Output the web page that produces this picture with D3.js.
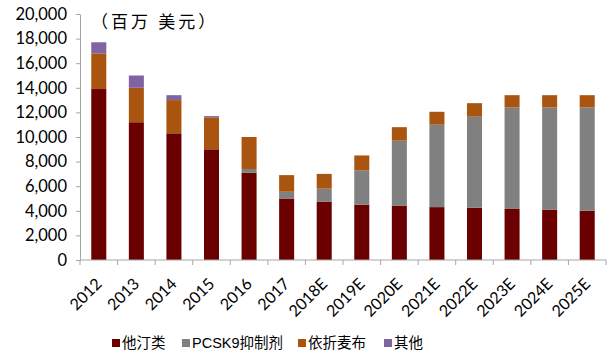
<!DOCTYPE html>
<html>
<head>
<meta charset="utf-8">
<script src="https://cdn.jsdelivr.net/npm/d3@7"></script>
<style>
  body { margin: 0; background: #fff; }
  text { font-family: Lato, "Noto Sans CJK SC", sans-serif; }
  .legend text { font-family: "Liberation Sans", "Noto Sans CJK SC", sans-serif; }
</style>
</head>
<body>
<svg id="chart"></svg>
<script>
// categories and series (百万美元)
const years = ["2012", "2013", "2014", "2015", "2016", "2017", "2018E", "2019E", "2020E", "2021E", "2022E", "2023E", "2024E", "2025E"];
const statins = [13900, 11200, 10300, 9000, 7100, 5000, 4750, 4500, 4400, 4300, 4250, 4150, 4100, 4000];
const pcsk9 = [0, 0, 0, 0, 300, 550, 1050, 2800, 5300, 6700, 7400, 8250, 8300, 8400];
const ezetimibe = [2900, 2800, 2700, 2600, 2600, 1350, 1200, 1200, 1100, 1050, 1100, 1000, 1000, 1000];
const others = [900, 1000, 400, 100, 0, 0, 0, 0, 0, 0, 0, 0, 0, 0];
const seriesNames = ["他汀类", "PCSK9抑制剂", "依折麦布", "其他"];
const yTicks = [0, 2000, 4000, 6000, 8000, 10000, 12000, 14000, 16000, 18000, 20000];

const colors = ["#6b0000", "#808080", "#a9550f", "#8064a2"];

const width = 616;
const height = 358;
const marginLeft = 80;
const marginRight = 10;
const marginTop = 14;
const axisY = 260;

const rows = years.map((y, i) => ({
  year: y, s0: statins[i], s1: pcsk9[i], s2: ezetimibe[i], s3: others[i]
}));
const keys = ["s0", "s1", "s2", "s3"];
const stacked = d3.stack().keys(keys)(rows);

const x = d3.scaleBand()
  .domain(years)
  .range([marginLeft, width - marginRight])
  .padding(0);

const y = d3.scaleLinear()
  .domain([0, 20000])
  .range([axisY, marginTop]);

const svg = d3.select("#chart")
  .attr("width", width)
  .attr("height", height)
  .attr("viewBox", [0, 0, width, height]);

const axisColor = "#a6a6a6";

// bars
const barW = x.bandwidth() * 0.4;
svg.append("g")
  .selectAll("g")
  .data(stacked)
  .join("g")
    .attr("fill", (d, i) => colors[i])
  .selectAll("rect")
  .data(d => d)
  .join("rect")
    .attr("x", d => x(d.data.year) + (x.bandwidth() - barW) / 2)
    .attr("y", d => y(d[1]))
    .attr("width", barW)
    .attr("height", d => y(d[0]) - y(d[1]));

// y axis
svg.append("g")
  .attr("transform", `translate(${marginLeft},0)`)
  .call(d3.axisLeft(y).tickValues(yTicks).tickSize(4).tickSizeOuter(0).tickFormat(d3.format(",")))
  .call(g => g.select(".domain").attr("stroke", axisColor))
  .call(g => g.selectAll(".tick line").attr("stroke", axisColor))
  .call(g => g.selectAll(".tick text")
    .attr("x", -13)
    .attr("fill", "#000")
    .attr("font-size", 16.5));

// x axis: line, ticks at band boundaries, rotated labels
const xg = svg.append("g");
xg.append("line")
  .attr("x1", marginLeft).attr("x2", x.range()[1])
  .attr("y1", axisY).attr("y2", axisY)
  .attr("stroke", axisColor);
xg.selectAll(".xt")
  .data(years.concat([null]))
  .join("line")
    .attr("class", "xt")
    .attr("x1", d => d === null ? x.range()[1] : x(d))
    .attr("x2", d => d === null ? x.range()[1] : x(d))
    .attr("y1", axisY).attr("y2", axisY + 5)
    .attr("stroke", axisColor);
xg.selectAll(".xl")
  .data(years)
  .join("text")
    .attr("class", "xl")
    .attr("transform", d => `translate(${x(d) + x.bandwidth() / 2},${axisY + 21}) rotate(-45)`)
    .attr("text-anchor", "end")
    .attr("dy", "0.35em")
    .attr("font-size", 16)
    .attr("fill", "#000")
    .text(d => d);

// unit label
svg.append("text")
  .attr("x", 91)
  .attr("y", 28)
  .attr("font-size", 17)
  .attr("letter-spacing", 3)
  .attr("fill", "#000")
  .text("（百万 美元）");

// legend
const legendX = [112, 182, 298, 384];
const legend = svg.append("g")
  .attr("class", "legend")
  .selectAll("g")
  .data(seriesNames)
  .join("g")
    .attr("transform", (d, i) => `translate(${legendX[i]},343)`);
legend.append("rect")
  .attr("x", 0).attr("y", -4)
  .attr("width", 8).attr("height", 8)
  .attr("fill", (d, i) => colors[i]);
legend.append("text")
  .attr("x", 10)
  .attr("dy", "0.36em")
  .attr("font-size", 14.5)
  .attr("fill", "#000")
  .text(d => d);
</script>
</body>
</html>
